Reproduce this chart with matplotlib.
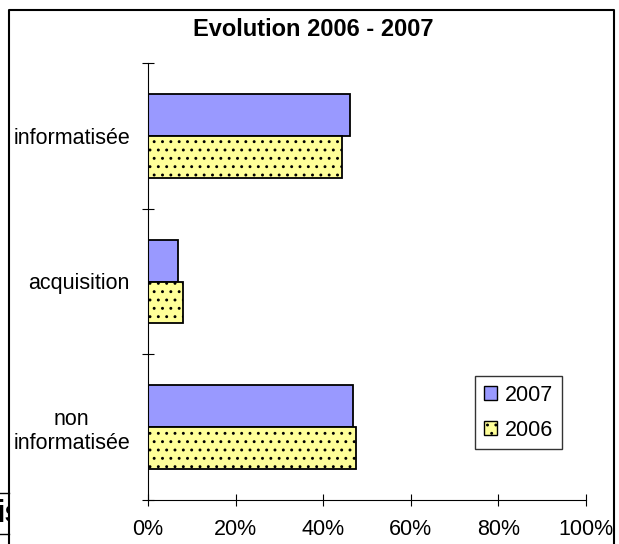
import numpy as np
import matplotlib
matplotlib.use('Agg')
import matplotlib.pyplot as plt
from matplotlib.patches import Patch
from matplotlib.lines import Line2D
from matplotlib.transforms import Bbox, TransformedBbox

plt.rcParams['font.family'] = ['Liberation Sans', 'DejaVu Sans']
plt.rcParams['hatch.linewidth'] = 0.9

categories = ['informatisée', 'acquisition', 'non\ninformatisée']
values_2007 = [0.461, 0.068, 0.468]
values_2006 = [0.442, 0.081, 0.475]
xtick_labels = ['0%', '20%', '40%', '60%', '80%', '100%']

fig = plt.figure(figsize=(6.19, 5.44), dpi=100)
ax = fig.add_axes([148 / 619, 1 - 500 / 544, 438 / 619, 437 / 544])

pos = np.arange(len(categories))[::-1]
h = 0.288
ax.barh(pos + h / 2, values_2007, height=h, color='#9999ff',
        edgecolor='black', linewidth=1.3, label='2007')
ax.barh(pos - h / 2, values_2006, height=h, color='#ffff99',
        edgecolor='black', hatch='..', linewidth=1.3, label='2006')

ax.set_xlim(0, 1)
ax.set_ylim(-0.5, 2.5)
ax.set_xticks(np.linspace(0, 1, 6))
ax.set_xticklabels(xtick_labels, fontsize=15.5)
ax.set_yticks(pos)
ax.set_yticklabels(categories, fontsize=15.5, multialignment='center')
ax.set_yticks([-0.5, 0.5, 1.5, 2.5], minor=True)
ax.tick_params(axis='y', which='major', length=0, pad=13)
ax.tick_params(axis='y', which='minor', length=8, direction='inout', width=0.8)
ax.tick_params(axis='x', length=8, direction='inout', width=0.8, pad=10)
for s in ['top', 'right']:
    ax.spines[s].set_visible(False)
for s in ['left', 'bottom']:
    ax.spines[s].set_linewidth(0.8)

ax.legend(handles=[Patch(facecolor='#9999ff', edgecolor='black', label='2007'),
                   Patch(facecolor='#ffff99', edgecolor='black', hatch='..', label='2006')],
          loc='upper left', bbox_to_anchor=(475 / 619, 1 - 376 / 544),
          bbox_transform=fig.transFigure, fontsize=15.5, frameon=True, fancybox=False,
          edgecolor='black', handlelength=0.6, handleheight=0.6, handletextpad=0.4,
          labelspacing=0.65, borderpad=0.4, borderaxespad=0)

fig.text(313 / 619, 1 - 29 / 544, 'Evolution 2006 - 2007', ha='center', va='center',
         fontsize=17, fontweight='bold')

# outer frame (cut at the bottom)
fig.add_artist(Line2D([9 / 619, 9 / 619, 614 / 619, 614 / 619],
                      [0, 1 - 10 / 544, 1 - 10 / 544, 0],
                      transform=fig.transFigure, color='black', linewidth=1.5))
# leftover of the surrounding page
fig.add_artist(Line2D([0, 9 / 619], [1 - 493 / 544] * 2, transform=fig.transFigure,
                      color='black', linewidth=1))
fig.add_artist(Line2D([0, 9 / 619], [1 - 534 / 544] * 2, transform=fig.transFigure,
                      color='black', linewidth=1))
t = fig.text(-3 / 619, 1 - 514 / 544, 'is', ha='left', va='center', fontsize=22,
             fontweight='bold')
t.set_clip_box(TransformedBbox(Bbox([[0, 0], [9 / 619, 1]]), fig.transFigure))
t.set_clip_on(True)

fig.savefig('out.png', dpi=100)
